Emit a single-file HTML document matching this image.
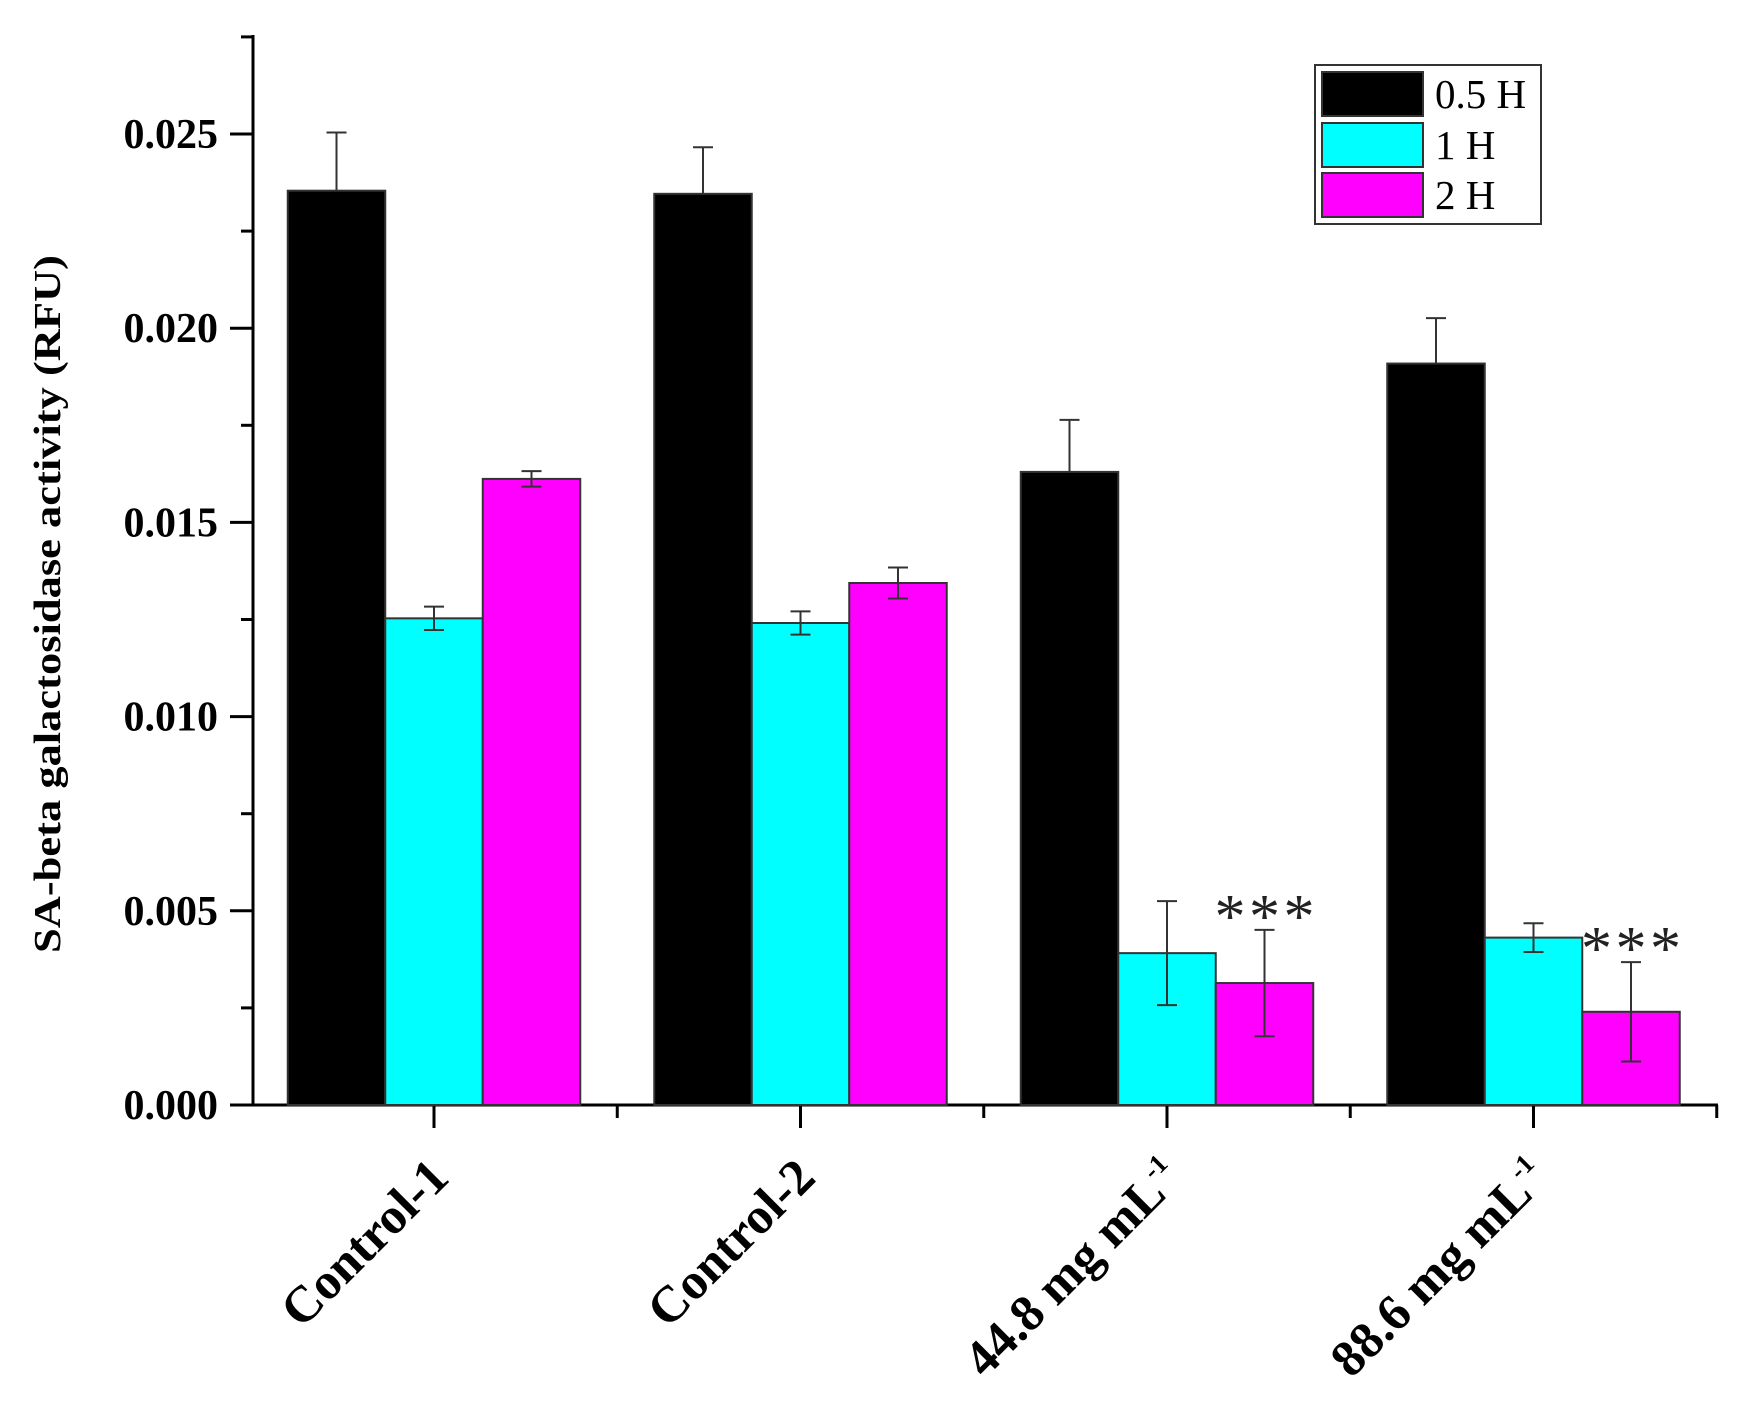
<!DOCTYPE html>
<html><head><meta charset="utf-8"><style>
html,body{margin:0;padding:0;background:#fff;}
svg{display:block;font-family:"Liberation Serif",serif;}
</style></head><body>
<svg id="chart" width="1738" height="1402" viewBox="0 0 1738 1402" xmlns="http://www.w3.org/2000/svg">
<g id="axes"></g><g id="bars"></g><g id="labels"></g>
<g>
<rect x="1315" y="65" width="226" height="159" fill="#fff" stroke="#333" stroke-width="2"/>
<rect x="1322" y="72" width="101" height="44" fill="#000" stroke="#333" stroke-width="2"/>
<text x="1435" y="108" font-size="41">0.5 H</text>
<rect x="1322" y="123" width="101" height="44" fill="#00ffff" stroke="#333" stroke-width="2"/>
<text x="1435" y="159" font-size="41">1 H</text>
<rect x="1322" y="173" width="101" height="44" fill="#ff00ff" stroke="#333" stroke-width="2"/>
<text x="1435" y="209" font-size="41">2 H</text>
</g>
<text transform="translate(60,604) rotate(-90)" text-anchor="middle" font-size="38" font-weight="bold" textLength="698" lengthAdjust="spacingAndGlyphs">SA-beta galactosidase activity (RFU)</text>
</svg>
<script>
const categories = ["Control-1","Control-2","44.8 mg mL","88.6 mg mL"];
const superscripts = ["","","-1","-1"];
const seriesNames = ["0.5 H","1 H","2 H"];
const values05 = [0.02354,0.02346,0.01630,0.01909];
const values1 = [0.01253,0.01241,0.00391,0.00431];
const values2 = [0.01612,0.01344,0.00314,0.00240];
const err05 = [0.0015,0.0012,0.00134,0.00117];
const err1 = [0.0003,0.0003,0.00134,0.00037];
const err2 = [0.0002,0.0004,0.00137,0.00128];
const yTicks = [0,0.005,0.010,0.015,0.020,0.025];
const yTickLabels = ["0.000","0.005","0.010","0.015","0.020","0.025"];
const sigMarks = ["","","***","***"];

const NS="http://www.w3.org/2000/svg";
const x0=253, y0=1105, pxPerUnit=194.2/0.005, groupW=366.5, firstCenter=434, barW=97.5;
const Y=v=>y0-v*pxPerUnit;
const X=i=>firstCenter+i*groupW;
function mk(tag,attrs,parent){const e=document.createElementNS(NS,tag);for(const k in attrs)e.setAttribute(k,attrs[k]);parent.appendChild(e);return e;}
const axes=document.getElementById('axes'),bars=document.getElementById('bars'),labels=document.getElementById('labels');
let el=mk('line',{x1:x0,y1:35,x2:x0,y2:y0+1,stroke:'#000','stroke-width':3},axes);


el=mk('line',{x1:x0-1,y1:y0,x2:1718,y2:y0,stroke:'#000','stroke-width':3},axes);


yTicks.forEach((t,i)=>{
  let l=mk('line',{x1:x0-23,y1:Y(t),x2:x0,y2:Y(t),stroke:'#000','stroke-width':3},axes);
  
  
  let m=mk('line',{x1:x0-12,y1:Y(t+0.0025),x2:x0,y2:Y(t+0.0025),stroke:'#000','stroke-width':3},axes);
  
  
  let tx=mk('text',{x:218,y:Y(t)+14,'text-anchor':'end','font-size':42,'font-weight':'bold'},labels);
  tx.textContent=yTickLabels[i];
  
  
});
const series=[[values05,err05,'#000000'],[values1,err1,'#00ffff'],[values2,err2,'#ff00ff']];
categories.forEach((c,i)=>{
  const cx=X(i);
  let t=mk('line',{x1:cx,y1:y0,x2:cx,y2:y0+23,stroke:'#000','stroke-width':3},axes);
  
  
  let mt=mk('line',{x1:cx+groupW/2,y1:y0,x2:cx+groupW/2,y2:y0+13,stroke:'#000','stroke-width':3},axes);
  
  
  series.forEach((s,j)=>{
    const v=s[0][i],e=s[1][i];
    const bx=cx-1.5*barW+j*barW;
    let r=mk('rect',{x:bx,y:Y(v),width:barW,height:y0-Y(v),fill:s[2],stroke:'#333','stroke-width':2},bars);
    
    
    const ex=bx+barW/2;
    const g=mk('g',{stroke:'#333','stroke-width':2},bars);
    
    
    mk('line',{x1:ex,y1:Y(v+e),x2:ex,y2:j===0?Y(v):Y(v-e)},g);
    mk('line',{x1:ex-10,y1:Y(v+e),x2:ex+10,y2:Y(v+e)},g);
    if(j!==0) mk('line',{x1:ex-10,y1:Y(v-e),x2:ex+10,y2:Y(v-e)},g);
  });
  if(sigMarks[i]){
    const ex=cx+barW;
    let s=mk('text',{x:ex-50,y:Y(values2[i]+err2[i])+7,'font-size':62,textLength:100,lengthAdjust:'spacing',fill:'#222'},labels);
    s.textContent=sigMarks[i];
    
    
  }
  let lt=mk('text',{transform:`translate(${cx+17},${1180}) rotate(-45)`,'text-anchor':'end','font-size':51,'font-weight':'bold'},labels);
  lt.textContent=c;
  if(superscripts[i]){const ts=mk('tspan',{'font-size':27,dy:-21},lt);ts.textContent=superscripts[i];}
  
  
});
</script>
</body></html>
